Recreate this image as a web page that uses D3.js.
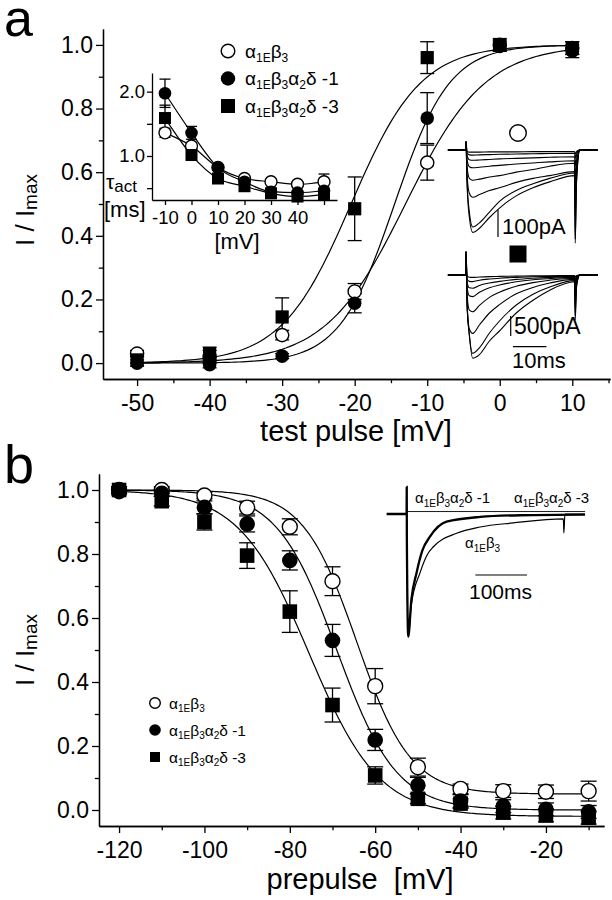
<!DOCTYPE html>
<html><head><meta charset="utf-8">
<script src="https://cdn.jsdelivr.net/npm/d3@7"></script>
<style>
body{margin:0;background:#fff;}
svg{display:block;}
</style></head><body>
<svg id="chart" width="612" height="900"></svg>
<script>
// ---------------- DATA ----------------
// Panel a: activation (I/Imax vs test pulse)
const actV = [-50, -40, -30, -20, -10, 0, 10];
const actB3 = [0.03, 0.02, 0.088, 0.225, 0.63, 1.0, 0.99];
const actB3Err = [0.01, 0.02, 0.015, 0.025, 0.055, 0.015, 0.02];
const actD1 = [0.0, -0.005, 0.022, 0.188, 0.77, 0.995, 0.98];
const actD1Err = [0.01, 0.01, 0.008, 0.03, 0.08, 0.015, 0.02];
const actD3 = [0.01, 0.03, 0.145, 0.485, 0.96, 1.0, 0.99];
const actD3Err = [0.01, 0.02, 0.06, 0.1, 0.05, 0.02, 0.02];
// Boltzmann fit parameters [V50, slope, bottom, top]
const fitActB3 = [-13.0, 5.5, 0, 1];
const fitActD1 = [-14.5, 3.8, 0, 1];
const fitActD3 = [-20.5, 4.8, 0, 1];
const actXTicks = [-50, -40, -30, -20, -10, 0, 10];
const actXLabels = ["-50", "-40", "-30", "-20", "-10", "0", "10"];
const actXMinor = [-45, -35, -25, -15, -5, 5, 15];
const yTicks = [0, 0.2, 0.4, 0.6, 0.8, 1.0];
const yLabels = ["0.0", "0.2", "0.4", "0.6", "0.8", "1.0"];
const yMinor = [0.1, 0.3, 0.5, 0.7, 0.9];

// Inset: tau_act vs voltage
const tauV = [-10, 0, 10, 20, 30, 40, 50];
const tauB3 = [1.36, 1.155, 0.82, 0.65, 0.60, 0.56, 0.60];
const tauB3Err = [0.07, 0.05, 0.03, 0.03, 0.03, 0.04, 0.12];
const tauD1 = [1.975, 1.36, 0.82, 0.60, 0.445, 0.43, 0.46];
const tauD1Err = [0.22, 0.10, 0.03, 0.03, 0.03, 0.03, 0.04];
const tauD3 = [1.59, 1.015, 0.65, 0.53, 0.42, 0.37, 0.40];
const tauD3Err = [0.20, 0.07, 0.03, 0.03, 0.03, 0.03, 0.05];
const tauXTicks = [-10, 0, 10, 20, 30, 40, 50];
const tauXLabels = ["-10", "0", "10", "20", "30", "40", ""];
const tauYTicks = [0.5, 1.0, 1.5, 2.0];
const tauYLabels = ["", "1.0", "", "2.0"];

// Current traces panel a (time in ms, current in pA, inward positive)
const traceT = [-5.4, -0.1, 0, 0.3, 1, 2, 4, 7, 10, 15, 20, 25, 32.4, 32.6, 33, 34, 39.4];
const tracesB3 = [
  [0,0,-30,120,250,305,290,250,215,170,140,118,95,345,120,0,0],
  [0,0,-30,110,230,285,270,230,190,150,125,105,85,330,110,0,0],
  [0,0,-30,90,160,175,165,150,140,120,105,95,80,250,90,0,0],
  [0,0,-30,60,105,112,108,100,95,82,72,60,49,180,60,0,0],
  [0,0,-30,35,62,66,64,60,57,52,48,44,40,110,40,0,0],
  [0,0,-30,20,36,38,37,35,33,31,29,27,25,60,20,0,0],
  [0,0,-30,10,18,19,18,17,16,15,14,13,12,30,10,0,0],
  [0,0,-30,4,8,8,8,7,7,7,6,6,6,15,5,0,0]
];
const tracesD3 = [
  [0,0,-580,700,1500,2080,1990,1650,1400,950,630,380,170,1125,300,0,0],
  [0,0,-580,700,1500,1960,1820,1450,1150,750,480,300,140,1000,250,0,0],
  [0,0,-580,650,1350,1460,1250,950,740,470,310,200,110,800,200,0,0],
  [0,0,-580,450,880,920,760,560,430,280,190,130,80,550,140,0,0],
  [0,0,-580,280,520,540,430,320,250,170,120,90,60,350,90,0,0],
  [0,0,-580,170,320,330,260,200,160,110,80,60,45,220,60,0,0],
  [0,0,-580,90,160,165,130,100,80,60,45,35,30,120,30,0,0],
  [0,0,-580,30,55,60,50,40,35,28,22,18,15,50,15,0,0]
];

// Panel b: steady-state inactivation
const inV = [-120, -110, -100, -90, -80, -70, -60, -50, -40, -30, -20, -10];
const inB3 = [1.0, 1.0, 0.983, 0.945, 0.885, 0.715, 0.387, 0.134, 0.066, 0.059, 0.057, 0.059];
const inB3Err = [0.01, 0.01, 0.01, 0.02, 0.025, 0.045, 0.055, 0.028, 0.015, 0.02, 0.021, 0.031];
const inD1 = [0.995, 0.99, 0.946, 0.894, 0.78, 0.53, 0.219, 0.077, 0.028, 0.012, 0.002, -0.006];
const inD1Err = [0.01, 0.01, 0.02, 0.025, 0.03, 0.05, 0.033, 0.025, 0.02, 0.02, 0.02, 0.02];
const inD3 = [1.0, 0.965, 0.9, 0.795, 0.62, 0.328, 0.108, 0.035, 0.02, -0.008, -0.017, -0.024];
const inD3Err = [0.01, 0.015, 0.025, 0.04, 0.065, 0.053, 0.027, 0.015, 0.015, 0.02, 0.02, 0.02];
const fitInB3 = [-64.3, -6.3, 0.05, 1];
const fitInD1 = [-69.0, -7.0, 0.0, 1];
const fitInD3 = [-75.5, -8.2, -0.02, 1];
const inXTicks = [-120, -100, -80, -60, -40, -20];
const inXLabels = ["-120", "-100", "-80", "-60", "-40", "-20"];
const inXMinor = [-110, -90, -70, -50, -30, -10];

// Panel b inset traces (time ms, normalized current)
const fastT = [-38.7, -0.2, 0, 0.3, 3, 9, 19, 30, 45, 77, 142, 220, 345];
const fastI = [0, 0, -0.22, 0.2, 1.0, 0.70, 0.48, 0.30, 0.185, 0.063, 0.024, 0.01, 0.005];
const slowT = [-38.7, -0.2, 0, 0.3, 3, 9, 25.7, 40, 51.6, 96.7, 142, 206, 303, 304, 306, 345];
const slowI = [0, 0, -0.22, 0.2, 1.0, 0.74, 0.48, 0.33, 0.267, 0.157, 0.106, 0.073, 0.04, 0.155, 0, 0];
const refT = [0, 345];
const refI = [-0.02, -0.02];

// ---------------- DRAWING ----------------
const FONT = "'Liberation Sans', Arial, Helvetica, sans-serif";
const svg = d3.select("#chart").attr("font-family", FONT);

const xA = d3.scaleLinear().domain([-54.7, 15.2]).range([103, 610]);
const yA = d3.scaleLinear().domain([-0.05, 1.05]).range([379, 29]);
const xB = d3.scaleLinear().domain([-124.7, -6.4]).range([99, 604]);
const yB = d3.scaleLinear().domain([-0.05, 1.05]).range([826, 474]);
const xI = d3.scaleLinear().domain([-14.9, 54.9]).range([152, 337]);
const yI = d3.scaleLinear().domain([0.316, 2.29]).range([200, 73]);

function styleAxis(g, fs) {
  g.attr("font-size", fs).attr("font-family", FONT);
  g.selectAll("path,line").attr("stroke", "#000").attr("stroke-width", 1.3);
  g.selectAll("text").attr("fill", "#000");
  return g;
}
function xAxis(x, y0, major, labels, minor, fs, tl, pad) {
  styleAxis(svg.append("g").attr("transform", `translate(0,${y0})`)
    .call(d3.axisBottom(x).tickValues(major).tickFormat((d, i) => labels[i])
      .tickSize(tl).tickPadding(pad).tickSizeOuter(0)), fs);
  if (minor) styleAxis(svg.append("g").attr("transform", `translate(0,${y0})`)
    .call(d3.axisBottom(x).tickValues(minor).tickFormat("").tickSize(tl * 0.6).tickSizeOuter(0)), fs);
}
function yAxis(y, x0, major, labels, minor, fs, tl, pad) {
  styleAxis(svg.append("g").attr("transform", `translate(${x0},0)`)
    .call(d3.axisLeft(y).tickValues(major).tickFormat((d, i) => labels[i])
      .tickSize(tl).tickPadding(pad).tickSizeOuter(0)), fs);
  if (minor) styleAxis(svg.append("g").attr("transform", `translate(${x0},0)`)
    .call(d3.axisLeft(y).tickValues(minor).tickFormat("").tickSize(tl * 0.6).tickSizeOuter(0)), fs);
}
function boltz(V, p) { return p[2] + (p[3] - p[2]) / (1 + Math.exp((p[0] - V) / p[1])); }
function fitCurve(x, y, p, v0, v1) {
  const vs = d3.range(v0, v1 + 0.001, 0.5);
  svg.append("path").datum(vs)
    .attr("d", d3.line().x(v => x(v)).y(v => y(boltz(v, p))))
    .attr("fill", "none").attr("stroke", "#000").attr("stroke-width", 1.2);
}
function errBars(x, y, V, vals, errs, cap) {
  const g = svg.append("g").attr("stroke", "#000").attr("stroke-width", 1.3);
  V.forEach((v, i) => {
    const cx = x(v), y1 = y(vals[i] + errs[i]), y2 = y(vals[i] - errs[i]);
    g.append("line").attr("x1", cx).attr("x2", cx).attr("y1", y1).attr("y2", y2);
    g.append("line").attr("x1", cx - cap / 2).attr("x2", cx + cap / 2).attr("y1", y1).attr("y2", y1);
    g.append("line").attr("x1", cx - cap / 2).attr("x2", cx + cap / 2).attr("y1", y2).attr("y2", y2);
  });
}
function symbol(g, kind, cx, cy, s) {
  if (kind === "open") g.append("circle").attr("cx", cx).attr("cy", cy).attr("r", s).attr("fill", "#fff").attr("stroke", "#000").attr("stroke-width", 1.4);
  else if (kind === "fill") g.append("circle").attr("cx", cx).attr("cy", cy).attr("r", s).attr("fill", "#000");
  else g.append("rect").attr("x", cx - s).attr("y", cy - s).attr("width", 2 * s).attr("height", 2 * s).attr("fill", "#000");
}
function markers(x, y, V, vals, kind, s) {
  const g = svg.append("g");
  V.forEach((v, i) => symbol(g, kind, x(v), y(vals[i]), s));
}
function chem(text, parts, sfs, shift) {
  let sub = false;
  parts.forEach(([t, s]) => {
    const ts = text.append("tspan").text(t);
    if (s) { ts.attr("font-size", sfs); if (!sub) ts.attr("dy", shift); sub = true; }
    else { if (sub) ts.attr("dy", -shift); sub = false; }
  });
}
const nB3 = [["α", 0], ["1E", 1], ["β", 0], ["3", 1]];
const nD1 = [["α", 0], ["1E", 1], ["β", 0], ["3", 1], ["α", 0], ["2", 1], ["δ -1", 0]];
const nD3 = [["α", 0], ["1E", 1], ["β", 0], ["3", 1], ["α", 0], ["2", 1], ["δ -3", 0]];

// ===== Panel a =====
svg.append("text").attr("x", 4).attr("y", 36).attr("font-size", 52).text("a");
xAxis(xA, 379, actXTicks, actXLabels, actXMinor, 23, 7, 9);
yAxis(yA, 103, yTicks, yLabels, yMinor, 23, 7, 3);
const ylA = svg.append("text").attr("transform", "translate(34,210) rotate(-90)")
  .attr("text-anchor", "middle").attr("font-size", 26);
ylA.append("tspan").text("I / I");
ylA.append("tspan").text("max").attr("font-size", 19).attr("dy", 3);
svg.append("text").attr("x", 356).attr("y", 441).attr("text-anchor", "middle")
  .attr("font-size", 29).text("test pulse [mV]");

fitCurve(xA, yA, fitActB3, -50, 10);
fitCurve(xA, yA, fitActD1, -50, 10);
fitCurve(xA, yA, fitActD3, -50, 10);
errBars(xA, yA, actV, actB3, actB3Err, 14);
errBars(xA, yA, actV, actD3, actD3Err, 14);
errBars(xA, yA, actV, actD1, actD1Err, 14);
markers(xA, yA, actV, actB3, "open", 6.6);
markers(xA, yA, actV, actD3, "sq", 6.6);
markers(xA, yA, actV, actD1, "fill", 6.8);

// legend a
const legA = svg.append("g");
[["open", nB3], ["fill", nD1], ["sq", nD3]].forEach(([k, parts], i) => {
  const cy = 51 + i * 27.5;
  symbol(legA, k, 228, cy, k === "open" ? 6.8 : (k === "fill" ? 7.2 : 7));
  const t = legA.append("text").attr("x", 245).attr("y", cy + 6.5).attr("font-size", 19);
  chem(t, parts, 12, 4);
});

// inset a
xAxis(xI, 200, tauXTicks, tauXLabels, null, 18.5, 5, 6);
yAxis(yI, 152, tauYTicks, tauYLabels, null, 18.5, 5, 2);
[tauB3, tauD1, tauD3].forEach(vals => {
  svg.append("path").datum(vals)
    .attr("d", d3.line().x((d, i) => xI(tauV[i])).y(d => yI(d)).curve(d3.curveMonotoneX))
    .attr("fill", "none").attr("stroke", "#000").attr("stroke-width", 1.2);
});
errBars(xI, yI, tauV, tauB3, tauB3Err, 11);
errBars(xI, yI, tauV, tauD3, tauD3Err, 11);
errBars(xI, yI, tauV, tauD1, tauD1Err, 11);
markers(xI, yI, tauV, tauB3, "open", 6);
markers(xI, yI, tauV, tauD3, "sq", 6);
markers(xI, yI, tauV, tauD1, "fill", 6.3);
const tau = svg.append("text").attr("x", 106).attr("y", 189).attr("font-size", 21);
tau.append("tspan").text("τ");
tau.append("tspan").text("act").attr("font-size", 17).attr("dy", 3);
svg.append("text").attr("x", 104).attr("y", 217).attr("font-size", 22).text("[ms]");
svg.append("text").attr("x", 237).attr("y", 249).attr("text-anchor", "middle").attr("font-size", 22).text("[mV]");

// traces a
const tA = d3.scaleLinear().domain([0, 10]).range([466, 499.5]);
const iTop = d3.scaleLinear().domain([0, 100]).range([150, 177]);
const iBot = d3.scaleLinear().domain([0, 500]).range([275, 295]);
tracesB3.forEach(tr => {
  svg.append("path").datum(tr)
    .attr("d", d3.line().x((d, i) => tA(traceT[i])).y(d => iTop(d)).curve(d3.curveMonotoneX))
    .attr("fill", "none").attr("stroke", "#000").attr("stroke-width", 1.1);
});
tracesD3.forEach(tr => {
  svg.append("path").datum(tr)
    .attr("d", d3.line().x((d, i) => tA(traceT[i])).y(d => iBot(d)).curve(d3.curveMonotoneX))
    .attr("fill", "none").attr("stroke", "#000").attr("stroke-width", 1.1);
});
const trG = svg.append("g");
symbol(trG, "open", 518, 133, 8.3);
symbol(trG, "sq", 518, 254, 8.5);
// scale bars
svg.append("line").attr("x1", 498).attr("x2", 498).attr("y1", 210).attr("y2", 210 + iTop(100) - iTop(0))
  .attr("stroke", "#000").attr("stroke-width", 1.2);
svg.append("text").attr("x", 502).attr("y", 234).attr("font-size", 22).text("100pA");
svg.append("line").attr("x1", 510.7).attr("x2", 510.7).attr("y1", 316).attr("y2", 316 + iBot(500) - iBot(0))
  .attr("stroke", "#000").attr("stroke-width", 1.2);
svg.append("text").attr("x", 514).attr("y", 334).attr("font-size", 23).text("500pA");
svg.append("line").attr("x1", tA(14)).attr("x2", tA(24)).attr("y1", 346.7).attr("y2", 346.7)
  .attr("stroke", "#000").attr("stroke-width", 1.2);
svg.append("text").attr("x", 512).attr("y", 368).attr("font-size", 22).text("10ms");

// ===== Panel b =====
svg.append("text").attr("x", 4).attr("y", 483).attr("font-size", 54).text("b");
xAxis(xB, 826, inXTicks, inXLabels, inXMinor, 23, 7, 9);
yAxis(yB, 99, yTicks, yLabels, yMinor, 23, 7, 3);
const ylB = svg.append("text").attr("transform", "translate(34,650) rotate(-90)")
  .attr("text-anchor", "middle").attr("font-size", 26);
ylB.append("tspan").text("I / I");
ylB.append("tspan").text("max").attr("font-size", 19).attr("dy", 3);
svg.append("text").attr("x", 360).attr("y", 889).attr("text-anchor", "middle")
  .attr("font-size", 29).style("white-space", "pre").text("prepulse  [mV]");

fitCurve(xB, yB, fitInB3, -120, -10);
fitCurve(xB, yB, fitInD1, -120, -10);
fitCurve(xB, yB, fitInD3, -120, -10);
errBars(xB, yB, inV, inB3, inB3Err, 16);
errBars(xB, yB, inV, inD3, inD3Err, 16);
errBars(xB, yB, inV, inD1, inD1Err, 16);
markers(xB, yB, inV, inB3, "open", 7.5);
markers(xB, yB, inV, inD3, "sq", 7.3);
markers(xB, yB, inV, inD1, "fill", 7.8);

const legB = svg.append("g");
[["open", nB3], ["fill", nD1], ["sq", nD3]].forEach(([k, parts], i) => {
  const cy = 703 + i * 27;
  symbol(legB, k, 155, cy, k === "open" ? 5.3 : (k === "fill" ? 5.8 : 5));
  const t = legB.append("text").attr("x", 169).attr("y", cy + 5.5).attr("font-size", 15.5);
  chem(t, parts, 10, 3.5);
});

// inset b traces
const tBs = d3.scaleLinear().domain([0, 100]).range([406.7, 458.4]);
const iIn = d3.scaleLinear().domain([0, 1]).range([514, 636.7]);
svg.append("path").datum(refI)
  .attr("d", d3.line().x((d, i) => tBs(refT[i])).y(d => iIn(d)))
  .attr("fill", "none").attr("stroke", "#000").attr("stroke-width", 0.9);
svg.append("path").datum(slowI)
  .attr("d", d3.line().x((d, i) => tBs(slowT[i])).y(d => iIn(d)).curve(d3.curveMonotoneX))
  .attr("fill", "none").attr("stroke", "#000").attr("stroke-width", 1.2);
svg.append("path").datum(fastI)
  .attr("d", d3.line().x((d, i) => tBs(fastT[i])).y(d => iIn(d)).curve(d3.curveMonotoneX))
  .attr("fill", "none").attr("stroke", "#000").attr("stroke-width", 2.3);
const l1 = svg.append("text").attr("x", 415).attr("y", 503).attr("font-size", 15);
chem(l1, nD1, 10, 3.5);
const l2 = svg.append("text").attr("x", 514).attr("y", 503).attr("font-size", 15);
chem(l2, nD3, 10, 3.5);
const l3 = svg.append("text").attr("x", 465).attr("y", 548).attr("font-size", 15);
chem(l3, nB3, 10, 3.5);
svg.append("line").attr("x1", tBs(132.8)).attr("x2", tBs(232.8)).attr("y1", 575).attr("y2", 575)
  .attr("stroke", "#000").attr("stroke-width", 1.2);
svg.append("text").attr("x", 469).attr("y", 599).attr("font-size", 21).text("100ms");
</script>
</body></html>
